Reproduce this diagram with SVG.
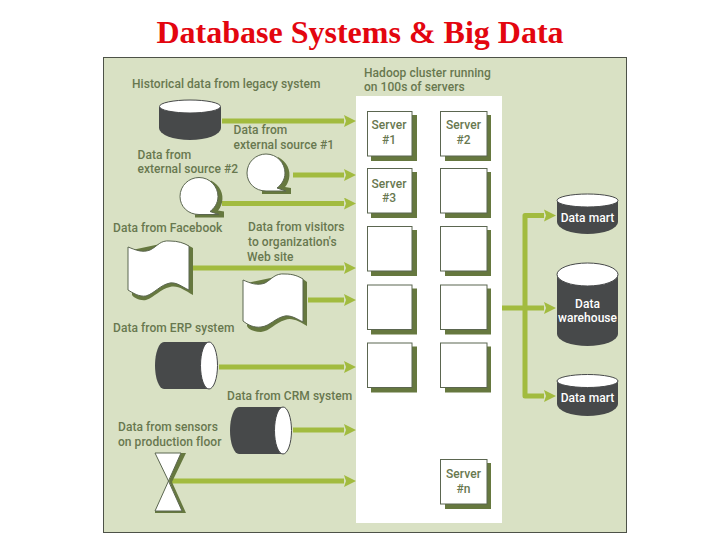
<svg xmlns="http://www.w3.org/2000/svg" width="720" height="540" viewBox="0 0 720 540">
<style>
.t{font-family:Roboto,"DejaVu Sans",sans-serif;font-size:12px;font-weight:500;letter-spacing:.05px;fill:#68784f}
.c{text-anchor:middle}
.w{fill:#fff;font-family:Roboto,"DejaVu Sans",sans-serif;font-size:12px;font-weight:500;letter-spacing:.05px;text-anchor:middle}
.s{fill:#66783f}
.box{fill:#fff;stroke:#5b6650;stroke-width:1}
.dark{fill:#47494a}
.a{fill:none;stroke:#a2bb3f;stroke-width:5;stroke-linejoin:round}
.doc{fill:#fff;stroke:#5b6650;stroke-width:1}
.top{fill:#fff;stroke:#47494a;stroke-width:1}
</style>
<defs>
<marker id="ah" markerUnits="userSpaceOnUse" markerWidth="13" markerHeight="12" refX="0" refY="6" orient="auto"><path d="M0 0L12 6L0 12L2 6Z" fill="#a2bb3f"/></marker>
<g id="srvA"><rect x="4" y="4" width="46" height="46" class="s"/><rect x=".5" y=".5" width="44.500" height="44.500" class="box"/></g>
<g id="srvB"><rect x="5" y="4" width="46" height="46" class="s"/><rect x=".5" y=".5" width="46.500" height="44.500" class="box"/></g>
<g id="bubble"><path class="s" d="M278 157C287 162 291 170 289 179C288 183 286 186 285 187L291 188V194H262L262 185Z"/><path class="doc" d="M266 154C277 154 285 163 285 173C285 180 281 185 277 188L286 191H266C255 191 247 183 247 173C247 162 256 154 266 154Z"/></g>
</defs>
<rect width="720" height="540" fill="#fff"/>
<text x="360" y="43" text-anchor="middle" font-family="'Liberation Serif',serif" font-size="32px" font-weight="700" fill="#e3060f">Database Systems &amp; Big Data</text>
<rect x="103.500" y="57.500" width="523" height="475" fill="#d9e1c4" stroke="#4d5248" stroke-width="1"/>
<g id="cluster"><rect x="356" y="96" width="146" height="427" fill="#fff"/><text class="t" x="364" y="77">Hadoop cluster running</text><text class="t" x="364" y="91">on 100s of servers</text></g>
<g id="connectors">
<path class="a" d="M222 121H344" marker-end="url(#ah)"/>
<path class="a" d="M293 175H344" marker-end="url(#ah)"/>
<path class="a" d="M222 203.500H344" marker-end="url(#ah)"/>
<path class="a" d="M193 268H344" marker-end="url(#ah)"/>
<path class="a" d="M308 300H344" marker-end="url(#ah)"/>
<path class="a" d="M219 367H344" marker-end="url(#ah)"/>
<path class="a" d="M293 430H344" marker-end="url(#ah)"/>
<path class="a" d="M172 481H344" marker-end="url(#ah)"/>
<path class="a" d="M502 308H544" marker-end="url(#ah)"/>
<path class="a" d="M544 215.500H525V396H544" marker-end="url(#ah)"/>
<path d="M544 209.500L556 215.500L544 221.500L546 215.500Z" fill="#a2bb3f"/>
</g>
<g id="legacy"><text class="t" x="132" y="88">Historical data from legacy system</text>
<path class="dark" d="M159 107V128A31 12 0 0 0 221 128V107Z"/><ellipse cx="190" cy="106.500" rx="30.500" ry="6.500" class="top"/></g>
<g id="ext1"><text class="t" x="233.500" y="134">Data from</text><text class="t" x="233.500" y="149">external source #1</text><use href="#bubble"/></g>
<g id="ext2"><text class="t" x="137.500" y="159">Data from</text><text class="t" x="137.500" y="173">external source #2</text><use href="#bubble" x="-67" y="23.500"/></g>
<g id="facebook"><text class="t" x="113" y="232">Data from Facebook</text>
<path class="s" d="M132 250L165 243C172 240 182 241 193 248V295C184 290 178 285 170 287C160 289 155 297 146 300C140 301 134 298 132 295Z"/><path class="doc" d="M128 247C136 250 142 253 150 250C158 246 160 240 170 241C178 241 184 243 189 246V290C182 287 177 282 170 283C160 285 155 293 146 296C139 297 133 293 128 290Z"/></g>
<g id="web"><text class="t" x="248" y="231">Data from visitors</text><text class="t" x="248" y="246">to organization's</text><text class="t" x="247" y="261">Web site</text>
<path class="s" d="M247 283L280 276C288 273 298 274 307 282V326C300 322 292 317 285 320C275 323 270 331 261 332C254 332 248 329 247 326Z"/><path class="doc" d="M243 280C250 283 257 286 265 283C272 279 275 273 285 274C293 274 298 276 303 279V322C297 319 291 315 285 316C275 318 270 326 261 327C254 328 248 325 243 321Z"/></g>
<g id="erp"><text class="t" x="113" y="332">Data from ERP system</text>
<path class="dark" d="M209 342H164A9 23.500 0 0 0 164 389H209Z"/><ellipse cx="209" cy="365.500" rx="8.500" ry="23.500" class="top"/></g>
<g id="crm"><text class="t" x="227" y="400">Data from CRM system</text>
<path class="dark" d="M283 407H239A9 23.500 0 0 0 239 454H283Z"/><ellipse cx="283" cy="430.500" rx="8.500" ry="23.500" class="top"/></g>
<g id="sensors"><text class="t" x="118" y="431">Data from sensors</text><text class="t" x="118" y="446">on production floor</text>
<path class="s" d="M180 453H186L172 482L186 513H155V510H181L169 481Z"/><path class="doc" d="M155 453H181L168.500 481L182 511H155L168.500 481Z"/></g>
<g id="s1"><use href="#srvA" x="367" y="111"/><text class="t c" x="389" y="129">Server</text><text class="t c" x="389" y="144">#1</text></g>
<g id="s2"><use href="#srvB" x="440" y="111"/><text class="t c" x="463.500" y="129">Server</text><text class="t c" x="463.500" y="144">#2</text></g>
<g id="s3"><use href="#srvA" x="367" y="168"/><text class="t c" x="389" y="188">Server</text><text class="t c" x="389" y="202">#3</text></g>
<g id="s4"><use href="#srvB" x="440" y="168"/></g>
<g id="s5"><use href="#srvA" x="367" y="226"/></g>
<g id="s6"><use href="#srvB" x="440" y="226"/></g>
<g id="s7"><use href="#srvA" x="367" y="284.500"/></g>
<g id="s8"><use href="#srvB" x="440" y="284.500"/></g>
<g id="s9"><use href="#srvA" x="367" y="342.500"/></g>
<g id="s10"><use href="#srvB" x="440" y="342.500"/></g>
<g id="sn"><use href="#srvB" x="440" y="459"/><text class="t c" x="463.500" y="478">Server</text><text class="t c" x="463.500" y="493">#n</text></g>
<g id="mart1"><path class="dark" d="M557 201V222A30.500 12 0 0 0 618 222V201Z"/><ellipse cx="587.500" cy="200.500" rx="30.500" ry="6.500" class="top"/><text class="w" x="587.500" y="222">Data mart</text></g>
<g id="dw"><path class="dark" d="M557 275V334A30.500 12 0 0 0 618 334V275Z"/><ellipse cx="587.500" cy="274.500" rx="30.500" ry="11.500" class="top"/><text class="w" x="587.500" y="308">Data</text><text class="w" x="587.500" y="322">warehouse</text></g>
<g id="mart2"><path class="dark" d="M557 381V404A30.500 12 0 0 0 618 404V381Z"/><ellipse cx="587.500" cy="381" rx="30.500" ry="6.500" class="top"/><text class="w" x="587.500" y="402">Data mart</text></g>
</svg>
